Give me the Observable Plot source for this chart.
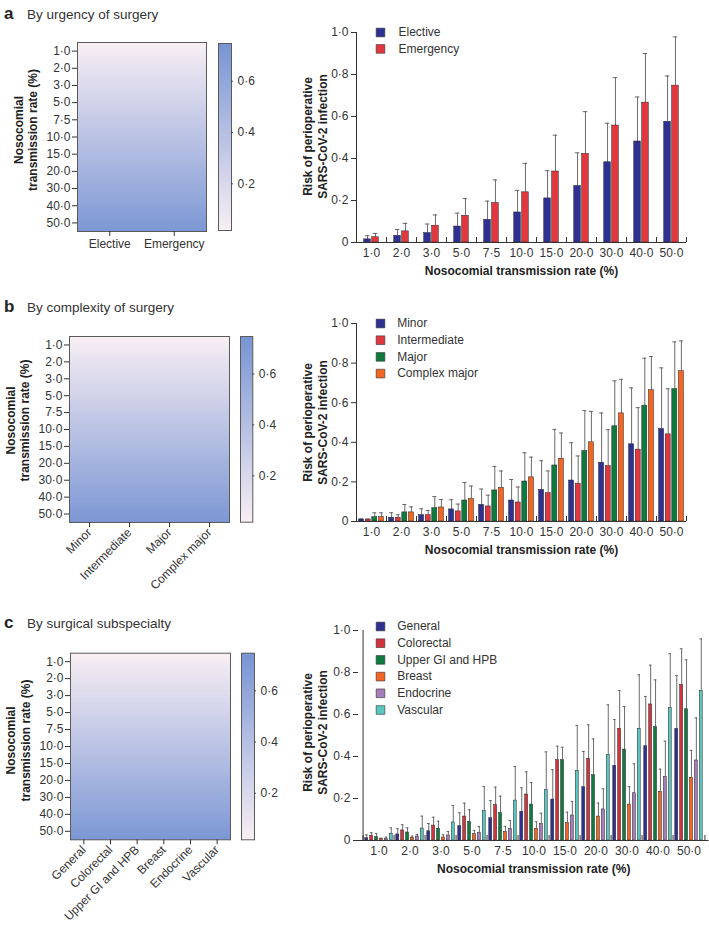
<!DOCTYPE html>
<html><head><meta charset="utf-8">
<script src="https://cdn.jsdelivr.net/npm/d3@7"></script>
<script src="https://cdn.jsdelivr.net/npm/@observablehq/plot@0.6"></script>
<style>
body{margin:0;background:#fff;}
#root{position:relative;width:709px;height:926px;overflow:hidden;font-family:"Liberation Sans",Arial,Helvetica,sans-serif;color:#222;}
.let{position:absolute;font-size:17px;font-weight:bold;line-height:17px;white-space:nowrap;}
.ttl{position:absolute;font-size:13.5px;line-height:13.5px;white-space:nowrap;color:#333;}
</style></head><body><div id="root"></div><script>
// ---------- data ----------
const rates = ["1·0","2·0","3·0","5·0","7·5","10·0","15·0","20·0","30·0","40·0","50·0"];
const riskTicks = [0, 0.2, 0.4, 0.6, 0.8, 1.0];
const colorbarTicks = [0.2, 0.4, 0.6];
const colorDomain = [0.018, 0.747];
const heatColors = ["#f9eff4", "#7894d3"];
// heat-map row values (same in each column)
const heatRowValues = [0.05, 0.12, 0.18, 0.24, 0.31, 0.37, 0.43, 0.50, 0.56, 0.62, 0.69];

// panel a
const urgencyCats = ["Elective", "Emergency"];
const elective    = [0.015,0.032,0.045,0.076,0.108,0.143,0.210,0.269,0.382,0.481,0.575];
const electiveUp  = [0.032,0.062,0.088,0.140,0.197,0.248,0.342,0.427,0.568,0.693,0.793];
const emergency   = [0.025,0.053,0.080,0.127,0.188,0.239,0.338,0.422,0.557,0.666,0.747];
const emergencyUp = [0.043,0.091,0.131,0.209,0.298,0.377,0.511,0.623,0.785,0.900,0.979];

// panel b
const complexityCats = ["Minor", "Intermediate", "Major", "Complex major"];
const minor          = [0.010,0.019,0.032,0.061,0.084,0.106,0.160,0.207,0.297,0.390,0.467];
const minorUp        = [0.013,0.044,0.064,0.110,0.164,0.212,0.307,0.398,0.548,0.675,0.776];
const intermediate   = [0.010,0.019,0.032,0.051,0.076,0.096,0.143,0.191,0.280,0.363,0.440];
const intermediateUp = [0.012,0.034,0.056,0.088,0.133,0.174,0.255,0.331,0.464,0.575,0.670];
const major          = [0.022,0.046,0.067,0.106,0.157,0.202,0.283,0.356,0.481,0.585,0.669];
const majorUp        = [0.044,0.086,0.126,0.197,0.278,0.347,0.465,0.560,0.710,0.825,0.907];
const complexMajor   = [0.022,0.046,0.071,0.113,0.170,0.223,0.317,0.400,0.546,0.663,0.759];
const complexMajorUp = [0.044,0.074,0.111,0.179,0.255,0.325,0.447,0.556,0.718,0.833,0.912];

// panel c
const specialtyCats = ["General", "Colorectal", "Upper GI and HPB", "Breast", "Endocrine", "Vascular"];
const general      = [0.011,0.029,0.044,0.068,0.106,0.137,0.195,0.254,0.356,0.449,0.532];
const generalUp    = [0.027,0.056,0.081,0.132,0.190,0.251,0.337,0.424,0.576,0.686,0.786];
const colorectal   = [0.022,0.048,0.071,0.114,0.168,0.219,0.383,0.389,0.532,0.648,0.741];
const colorectalUp = [0.037,0.075,0.111,0.178,0.254,0.327,0.449,0.551,0.714,0.835,0.913];
const upperGI      = [0.016,0.038,0.056,0.089,0.130,0.171,0.383,0.311,0.433,0.540,0.625];
const upperGIUp    = [0.033,0.060,0.092,0.146,0.211,0.276,0.444,0.484,0.638,0.765,0.860];
const breast       = [0.006,0.013,0.014,0.030,0.041,0.056,0.083,0.114,0.171,0.232,0.298];
const breastUp     = [0.011,0.021,0.027,0.048,0.067,0.089,0.135,0.178,0.256,0.340,0.429];
const endocrine    = [0.006,0.019,0.024,0.037,0.054,0.079,0.119,0.148,0.225,0.302,0.381];
const endocrineUp  = [0.016,0.029,0.043,0.067,0.095,0.130,0.186,0.246,0.365,0.473,0.584];
const vascular     = [0.032,0.057,0.086,0.140,0.190,0.240,0.332,0.408,0.532,0.630,0.713];
const vascularUp   = [0.060,0.116,0.167,0.257,0.352,0.422,0.548,0.646,0.789,0.889,0.960];

const C = {navy:"#2e3192", red:"#e0383e", red2:"#d2333c", green:"#0f7a3e", orange:"#f26522", purple:"#a77cbb", cyan:"#5cc6c1"};

// ---------- helpers ----------
const root = document.getElementById("root");
const FONT = "'Liberation Sans', Arial, Helvetica, sans-serif";
const fmt = d => d === 0 ? "0" : d3.format(".1f")(d).replace(".", "·");
const colorScale = () => ({type: "linear", domain: colorDomain, range: heatColors, clamp: true, interpolate: "rgb"});
const baseStyle = {fontFamily: FONT, fontSize: "12px", color: "#333", background: "transparent", overflow: "visible"};
// row position -> row value (piecewise through the row values)
const rowValue = d3.scaleLinear().domain(rates.map((_, i) => i)).range(heatRowValues);

function mount(el, left, top) {
  el.style.position = "absolute";
  el.style.left = left + "px";
  el.style.top = top + "px";
  root.appendChild(el);
}
function title(letter, text, baseline) {
  const a = document.createElement("div");
  a.className = "let"; a.textContent = letter;
  a.style.left = "4px"; a.style.top = (baseline - 14.4) + "px";
  root.appendChild(a);
  const t = document.createElement("div");
  t.className = "ttl"; t.textContent = text;
  t.style.left = "27px"; t.style.top = (baseline - 11.4) + "px";
  root.appendChild(t);
}

function heatmap({cats, width, height, ml, mr, mt, mb, rotate, labDx, labDy}) {
  return Plot.plot({
    width, height, marginLeft: ml, marginRight: mr, marginTop: mt, marginBottom: mb,
    style: baseStyle,
    x: {domain: [-0.5, cats.length - 0.5]},
    y: {domain: [rates.length - 0.5, -0.5]},
    color: colorScale(),
    marks: [
      Plot.raster({fill: (x, y) => rowValue(y), x1: -0.5, x2: cats.length - 0.5, y1: -0.5, y2: rates.length - 0.5}),
      Plot.frame({stroke: "#5a5a5a", strokeWidth: 1}),
      Plot.axisY({ticks: rates.map((_, i) => i), tickFormat: i => rates[i], tickSize: 5, tickPadding: 2, label: null, fontSize: 12}),
      Plot.axisX({ticks: cats.map((_, i) => i), tickFormat: i => cats[i], tickSize: 5, tickPadding: 3, tickRotate: rotate, label: null, fontSize: 12}),
      Plot.text(["Nosocomial\ntransmission rate (%)"], {text: d => d, frameAnchor: "left", textAnchor: "middle", lineAnchor: "middle", dx: labDx, dy: labDy, rotate: -90, fontWeight: "bold", fontSize: 12, lineHeight: 1.2, fill: "#222"})
    ]
  });
}

function colorbar({height, mt, mb, frameW}) {
  return Plot.plot({
    width: 50, height, marginLeft: 1, marginRight: 49 - frameW, marginTop: mt, marginBottom: mb,
    style: baseStyle,
    x: {domain: [0, 1], axis: null},
    y: {domain: colorDomain},
    color: colorScale(),
    marks: [
      Plot.raster({fill: (x, y) => y, x1: 0, x2: 1, y1: colorDomain[0], y2: colorDomain[1]}),
      Plot.frame({stroke: "#5a5a5a", strokeWidth: 1}),
      Plot.tickY(colorbarTicks, {y: d => d, insetLeft: frameW - 2, dx: 2, stroke: "#444"}),
      Plot.axisY({anchor: "right", ticks: colorbarTicks, tickFormat: fmt, tickSize: 0, tickPadding: 6, label: null, fontSize: 12})
    ]
  });
}

function barChart({series, width, height, ml, mr, mt, mb, barW, step, capW, yDx, yDy, leg}) {
  const bw = (width - ml - mr) / rates.length;
  const frameH = height - mt - mb;
  const n = series.length;
  const marks = [];
  series.forEach((s, si) => {
    const data = rates.map((r, i) => ({rate: r, v: s.values[i], up: s.upper[i]}));
    const off = (si - (n - 1) / 2) * step;
    marks.push(
      Plot.ruleX(data, {x: "rate", y1: "v", y2: "up", dx: off, stroke: "#5a5a5a", strokeWidth: 0.9}),
      Plot.tickY(data, {x: "rate", y: "up", dx: off, insetLeft: (bw - capW) / 2, insetRight: (bw - capW) / 2, stroke: "#5a5a5a", strokeWidth: 0.9}),
      Plot.barY(data, {x: "rate", y: "v", dx: off, insetLeft: (bw - barW) / 2, insetRight: (bw - barW) / 2, fill: s.color, stroke: "#222", strokeWidth: 0.5})
    );
  });
  marks.push(
    Plot.ruleY([0], {stroke: "#333", strokeWidth: 1}),
    Plot.tickX([rates[0]], {x: d => d, dx: -bw / 2, stroke: "#333", strokeWidth: 1}),
    Plot.tickX(rates, {x: d => d, dx: -bw / 2, insetTop: frameH - 5, stroke: "#333", strokeWidth: 1}),
    Plot.tickX([rates[rates.length - 1]], {x: d => d, dx: bw / 2, insetTop: frameH - 5, stroke: "#333", strokeWidth: 1}),
    Plot.axisY({ticks: riskTicks, tickFormat: fmt, tickSize: 5, tickPadding: 3, label: null, fontSize: 12}),
    Plot.axisX({tickSize: 0, tickPadding: 6, label: null, fontSize: 12}),
    Plot.text(["Nosocomial transmission rate (%)"], {text: d => d, frameAnchor: "bottom", textAnchor: "middle", lineAnchor: "middle", dy: 28.5, fontWeight: "bold", fontSize: 12, fill: "#222"}),
    Plot.text(["Risk of perioperative\nSARS-CoV-2 infection"], {text: d => d, frameAnchor: "left", textAnchor: "middle", lineAnchor: "middle", dx: yDx, dy: yDy, rotate: -90, fontWeight: "bold", fontSize: 12, lineHeight: 1.25, fill: "#222"})
  );
  series.forEach((s, si) => {
    marks.push(
      Plot.dot([s.name], {frameAnchor: "top-left", dx: leg.dx, dy: leg.dy + si * leg.step, symbol: "square", r: 4.9, fill: s.color, stroke: "#333", strokeWidth: 0.6}),
      Plot.text([s.name], {text: d => d, frameAnchor: "top-left", textAnchor: "start", lineAnchor: "middle", dx: leg.tx, dy: leg.dy + si * leg.step, fontSize: 12, fill: "#333"})
    );
  });
  return Plot.plot({
    width, height, marginLeft: ml, marginRight: mr, marginTop: mt, marginBottom: mb,
    style: baseStyle,
    x: {type: "band", domain: rates, padding: 0},
    y: {domain: [0, 1]},
    marks
  });
}

// ---------- panel a ----------
title("a", "By urgency of surgery", 19);
mount(heatmap({cats: urgencyCats, width: 210, height: 260, ml: 77, mr: 4, mt: 42, mb: 29, rotate: 0, labDx: -52, labDy: -7}), 0, 0);
mount(colorbar({height: 250, mt: 43, mb: 20, frameW: 13}), 217, 0);
mount(barChart({
  series: [
    {name: "Elective", values: elective, upper: electiveUp, color: C.navy},
    {name: "Emergency", values: emergency, upper: emergencyUp, color: C.red}
  ],
  width: 420, height: 280, ml: 76, mr: 14, mt: 32, mb: 38, barW: 6.6, step: 7.9, capW: 4.5,
  yDx: -42, yDy: -1, leg: {dx: 24, dy: 0, step: 16.4, tx: 42}
}), 280, 0);

// ---------- panel b ----------
title("b", "By complexity of surgery", 312);
mount(heatmap({cats: complexityCats, width: 235, height: 280, ml: 69, mr: 6, mt: 36, mb: 58, rotate: -45, labDx: -52, labDy: -9}), 0, 300);
mount(colorbar({height: 240, mt: 36, mb: 18.3, frameW: 12.3}), 239, 300);
mount(barChart({
  series: [
    {name: "Minor", values: minor, upper: minorUp, color: C.navy},
    {name: "Intermediate", values: intermediate, upper: intermediateUp, color: C.red},
    {name: "Major", values: major, upper: majorUp, color: C.green},
    {name: "Complex major", values: complexMajor, upper: complexMajorUp, color: C.orange}
  ],
  width: 420, height: 270, ml: 76, mr: 14, mt: 23, mb: 49, barW: 5, step: 6.6, capW: 4,
  yDx: -41.5, yDy: 0, leg: {dx: 24, dy: 0, step: 16.7, tx: 40.7}
}), 280, 300);

// ---------- panel c ----------
title("c", "By surgical subspecialty", 628.5);
mount(heatmap({cats: specialtyCats, width: 236, height: 306, ml: 70, mr: 6, mt: 32.7, mb: 86.7, rotate: -45, labDx: -52.5, labDy: -6}), 0, 620);
mount(colorbar({height: 240, mt: 32.7, mb: 20.7, frameW: 13}), 240, 620);
mount(barChart({
  series: [
    {name: "General", values: general, upper: generalUp, color: C.navy},
    {name: "Colorectal", values: colorectal, upper: colorectalUp, color: C.red2},
    {name: "Upper GI and HPB", values: upperGI, upper: upperGIUp, color: C.green},
    {name: "Breast", values: breast, upper: breastUp, color: C.orange},
    {name: "Endocrine", values: endocrine, upper: endocrineUp, color: C.purple},
    {name: "Vascular", values: vascular, upper: vascularUp, color: C.cyan}
  ],
  width: 429, height: 316, ml: 78, mr: 0.5, mt: 20, mb: 86, barW: 3.8, step: 4.9, capW: 3.5,
  yDx: -43.8, yDy: -3, leg: {dx: 22, dy: -4, step: 16.7, tx: 38.7}
}), 280, 610);
</script></body></html>
